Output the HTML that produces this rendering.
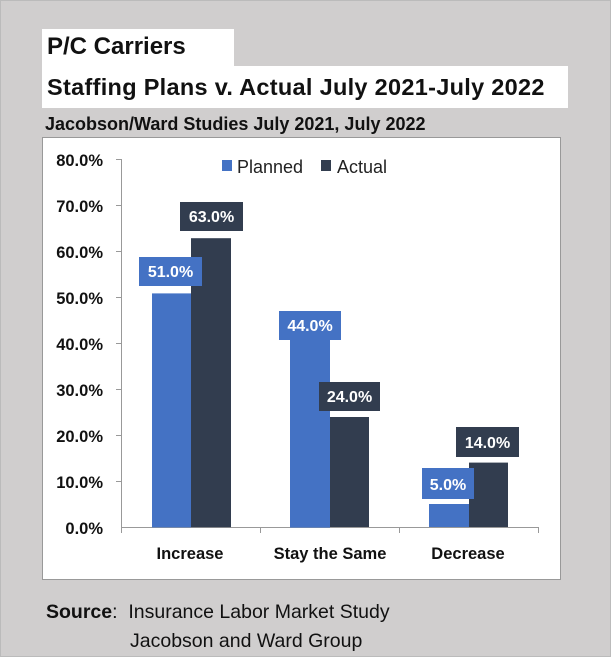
<!DOCTYPE html>
<html><head><style>
body{margin:0;width:611px;height:657px;background:#d0cece;position:relative;font-family:"Liberation Sans",sans-serif;overflow:hidden}
.a{position:absolute;white-space:nowrap}
</style></head><body>
<div class="a" style="left:0;top:0;width:609px;height:655px;border:1px solid #bbb"></div>
<div class="a" style="left:42px;top:29px;width:192px;height:38px;background:#fff"></div>
<div class="a" style="left:42px;top:66px;width:526px;height:42px;background:#fff"></div>
<div class="a" style="left:47px;top:33px;font-size:24px;font-weight:bold;color:#111">P/C Carriers</div>
<div class="a" style="left:47px;top:74px;font-size:23.5px;font-weight:bold;color:#111;letter-spacing:0.3px">Staffing Plans v. Actual July 2021-July 2022</div>
<div class="a" style="left:45px;top:114px;font-size:18px;font-weight:bold;color:#111">Jacobson/Ward Studies July 2021, July 2022</div>
<svg class="a" style="left:0;top:0" width="611" height="657">
<rect x="42.5" y="137.5" width="518" height="442" fill="#fff" stroke="#999"/>
<g font-family="Liberation Sans" font-size="16.5" font-weight="bold" fill="#111" text-anchor="end">
<text x="103" y="166">80.0%</text><text x="103" y="212">70.0%</text><text x="103" y="258">60.0%</text><text x="103" y="304">50.0%</text><text x="103" y="350">40.0%</text><text x="103" y="396">30.0%</text><text x="103" y="442">20.0%</text><text x="103" y="488">10.0%</text><text x="103" y="534">0.0%</text>
</g>
<g stroke="#999" fill="none">
<path d="M121.5 159V527.5H538.5"/>
<path d="M116 159.5h5M116 205.5h5M116 251.5h5M116 297.5h5M116 343.5h5M116 389.5h5M116 435.5h5M116 481.5h5"/>
<path d="M260.5 527v6M399.5 527v6M538.5 527v6M121.5 527v6"/>
</g>
<g fill="#4472c4"><rect x="152" y="293.4" width="39" height="234"/><rect x="290" y="325.6" width="40" height="202"/><rect x="429" y="504" width="40" height="23"/></g>
<g fill="#323d4f"><rect x="191" y="238.2" width="40" height="289"/><rect x="330" y="417" width="39" height="110"/><rect x="469" y="462.6" width="39" height="64.4"/></g>
<rect x="139" y="257" width="63" height="29" fill="#4472c4"/>
<rect x="180" y="202" width="63" height="29" fill="#323d4f"/>
<rect x="279" y="311" width="62" height="29" fill="#4472c4"/>
<rect x="319" y="382" width="61" height="29" fill="#323d4f"/>
<rect x="422" y="468" width="52" height="31" fill="#4472c4"/>
<rect x="456" y="427" width="63" height="30" fill="#323d4f"/>
<g font-family="Liberation Sans" font-size="16" font-weight="bold" fill="#fff" text-anchor="middle">
<text x="170.5" y="277">51.0%</text><text x="211.5" y="222">63.0%</text><text x="310" y="331">44.0%</text><text x="349.5" y="402">24.0%</text><text x="448" y="490">5.0%</text><text x="487.5" y="448">14.0%</text>
</g>
<g font-family="Liberation Sans" font-size="16.5" font-weight="bold" fill="#111" text-anchor="middle">
<text x="190" y="559">Increase</text><text x="330" y="559">Stay the Same</text><text x="468" y="559">Decrease</text>
</g>
<rect x="222" y="160" width="10" height="11" fill="#4472c4"/>
<text x="237" y="173" font-family="Liberation Sans" font-size="18" fill="#222">Planned</text>
<rect x="321" y="160" width="10" height="11" fill="#323d4f"/>
<text x="337" y="173" font-family="Liberation Sans" font-size="18" fill="#222">Actual</text>
</svg>
<div class="a" style="left:46px;top:601px;font-size:19.5px;color:#111"><b>Source</b>:&nbsp; Insurance Labor Market Study</div>
<div class="a" style="left:130px;top:630px;font-size:19.5px;color:#111">Jacobson and Ward Group</div>
</body></html>
